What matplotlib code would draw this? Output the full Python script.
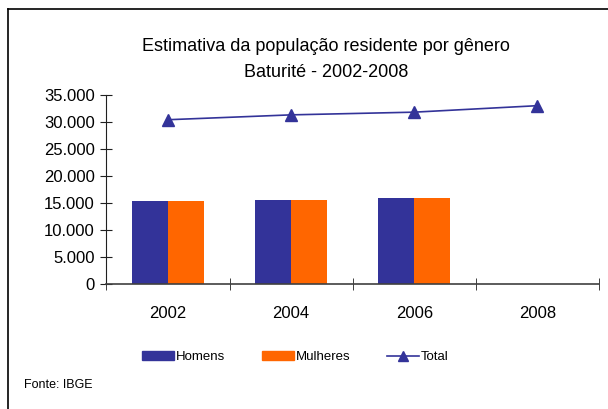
import numpy as np
import matplotlib
matplotlib.use("Agg")
import matplotlib.pyplot as plt
from matplotlib.lines import Line2D
from matplotlib.patches import Rectangle

anos = ["2002", "2004", "2006", "2008"]
homens = [15350, 15550, 15900, np.nan]
mulheres = [15400, 15600, 15950, np.nan]
total = [30400, 31300, 31800, 33000]

azul = "#333399"
laranja = "#FF6600"

plt.rcParams["font.family"] = ["Liberation Sans", "DejaVu Sans"]

fig = plt.figure(figsize=(6.08, 4.09), dpi=100)
ax = fig.add_axes([0.175, 0.306, 0.810, 0.462])

x = np.arange(len(anos))
w = 0.29
ax.bar(x - w / 2, homens, w, color=azul, label="Homens")
ax.bar(x + w / 2, mulheres, w, color=laranja, label="Mulheres")
ax.plot(x, total, color=azul, lw=1.2, marker="^", ms=8, label="Total")

ax.set_xlim(-0.5, 3.5)
ax.set_ylim(0, 35000)
ax.set_yticks(np.arange(0, 35001, 5000))
ax.set_yticklabels(["{:,}".format(v).replace(",", ".") for v in range(0, 35001, 5000)],
                   fontsize=12)
ax.set_xticks(x)
ax.set_xticklabels(anos, fontsize=12)
ax.set_xticks(np.arange(-0.5, 3.6, 1), minor=True)
ax.tick_params(axis="x", which="major", length=0, pad=16)
ax.tick_params(axis="x", which="minor", direction="inout", length=9, color="#202020")
ax.tick_params(axis="y", direction="inout", length=9, color="#202020", pad=4)
for s in ["top", "right"]:
    ax.spines[s].set_visible(False)
ax.spines["left"].set_color("#202020")
ax.spines["bottom"].set_color("#404040")
ax.spines["bottom"].set_linewidth(1.2)

fig.text(0.536, 0.887, "Estimativa da população residente por gênero",
         ha="center", va="center", fontsize=13)
fig.text(0.536, 0.822, "Baturité - 2002-2008", ha="center", va="center", fontsize=13)

handles = [Rectangle((0, 0), 1, 1, color=azul),
           Rectangle((0, 0), 1, 1, color=laranja),
           Line2D([], [], color=azul, lw=1.2, marker="^", ms=7)]
fig.legend(handles, ["Homens", "Mulheres", "Total"], loc="center",
           bbox_to_anchor=(0.486, 0.127), ncol=3, frameon=False, fontsize=9.5,
           handlelength=2.4, handleheight=0.6, handletextpad=0.15, columnspacing=2.8)

fig.text(0.04, 0.059, "Fonte: IBGE", fontsize=9, va="center")

fig.add_artist(Line2D([0.013, 0.013], [0, 0.978], color="black", lw=1.2))
fig.add_artist(Line2D([0.013, 1.0], [0.978, 0.978], color="black", lw=1.2))

fig.savefig("out.png", dpi=100)
